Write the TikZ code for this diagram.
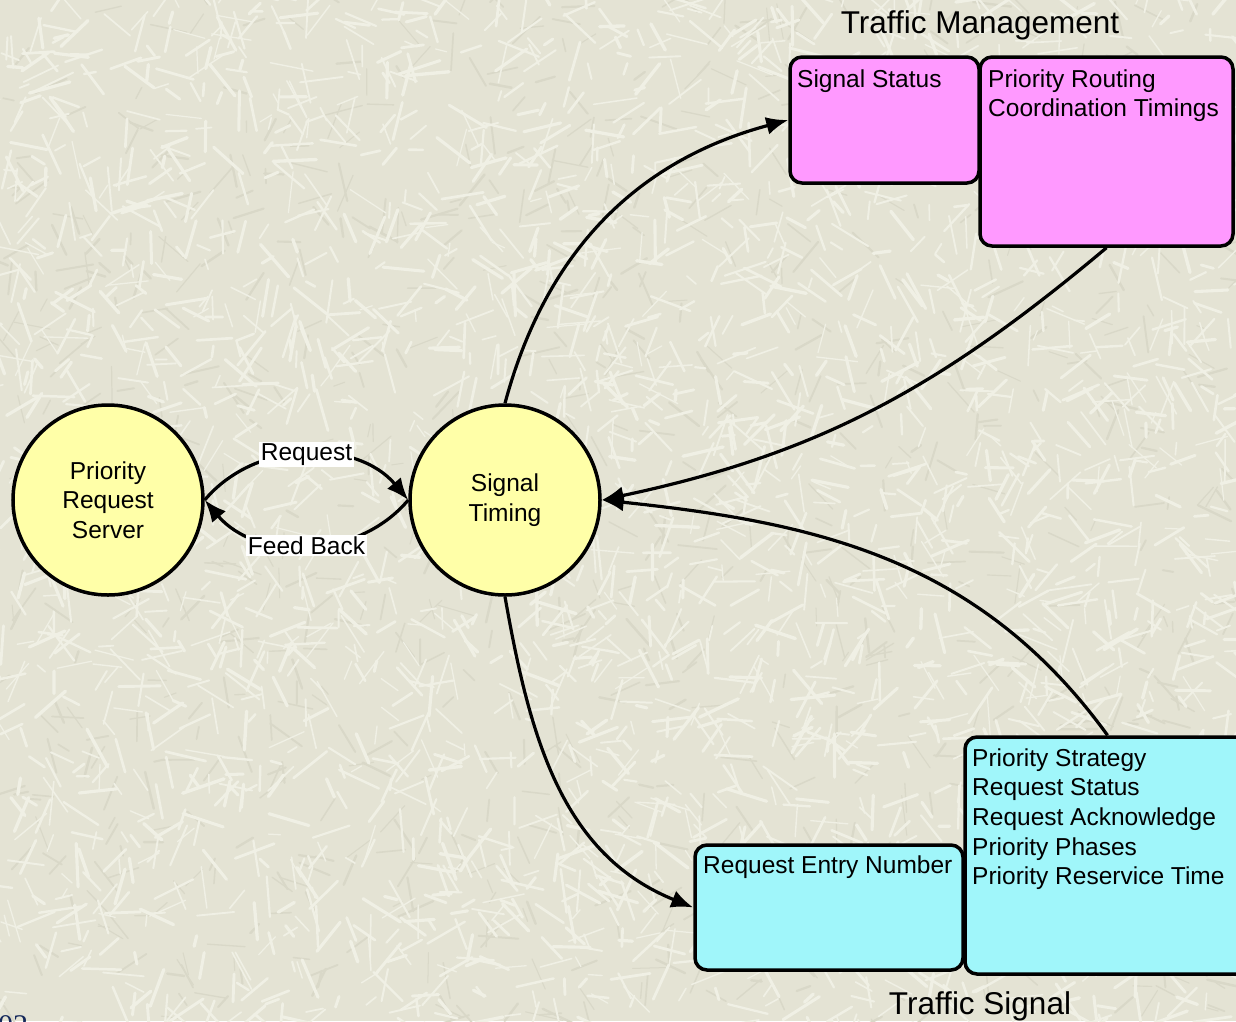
\documentclass[tikz,border=0pt]{standalone}
\usepackage{fontspec}
\setmainfont{Liberation Sans}
\newfontfamily\slidefont{Liberation Serif}
\usetikzlibrary{arrows.meta}
\definecolor{bgbase}{RGB}{228,227,212}
\definecolor{bgstroke}{RGB}{240,240,229}
\definecolor{bgdark}{RGB}{217,216,200}
\definecolor{circfill}{RGB}{255,255,168}
\definecolor{pinkfill}{RGB}{255,153,255}
\definecolor{cyanfill}{RGB}{160,246,250}
\definecolor{navy}{RGB}{20,40,90}
\tikzset{
  bodytext/.style={font=\fontsize{24.5}{29.7}\selectfont, inner sep=0pt},
  titletext/.style={font=\fontsize{31.5}{36}\selectfont, inner sep=0pt},
  proc/.style={circle, draw=black, line width=3.5pt, fill=circfill, minimum size=190pt, inner sep=0pt, align=center, font=\fontsize{24.5}{29.5}\selectfont},
  pinkbox/.style={draw=black, line width=3.5pt, fill=pinkfill, rounded corners=12pt, inner sep=0pt},
  cyanbox/.style={draw=black, line width=3.5pt, fill=cyanfill, rounded corners=12pt, inner sep=0pt},
  flow/.style={line width=3.2pt, -{Latex[length=22pt,width=18pt]}},
  flowlabel/.style={fill=white, inner sep=1.5pt, font=\fontsize{24.5}{29.5}\selectfont},
  texture/.style={draw=bgstroke, line cap=round},
  texturedark/.style={draw=bgdark, line cap=round},
}
\begin{document}
\begin{tikzpicture}[x=1pt,y=1pt]
\useasboundingbox (0,0) rectangle (1236,-1021);
\begin{scope}
\clip (0,0) rectangle (1236,-1021);
\fill[bgbase] (0,0) rectangle (1236,-1021);
\pgfmathsetseed{11}
\foreach \i in {1,...,900}{
  \pgfmathsetmacro\xx{rnd*1260-12}
  \pgfmathsetmacro\yy{rnd*1045-12}
  \pgfmathsetmacro\aa{rnd*360}
  \pgfmathsetmacro\ll{10+rnd*30}
  \pgfmathsetmacro\ww{1+rnd*1.5}
  \draw[texturedark, line width=\ww pt] (\xx,-\yy) -- ++(\aa:\ll);
}
\foreach \i in {1,...,2800}{
  \pgfmathsetmacro\xx{rnd*1260-12}
  \pgfmathsetmacro\yy{rnd*1045-12}
  \pgfmathsetmacro\aa{rnd*360}
  \pgfmathsetmacro\ll{10+rnd*34}
  \pgfmathsetmacro\ww{1.2+rnd*2.2}
  \draw[texture, line width=\ww pt] (\xx,-\yy) -- ++(\aa:\ll);
}
% nodes
\node[proc] (prs) at (108,-500) {Priority\\Request\\Server};
\node[proc] (st) at (505,-500) {Signal\\Timing};

\node[pinkbox, minimum width=189pt, minimum height=126pt] (ss) at (884.5,-120) {};
\node[pinkbox, minimum width=253pt, minimum height=189pt] (pr) at (1106.5,-151.5) {};
\node[cyanbox, minimum width=268pt, minimum height=125pt] (ren) at (829,-907.5) {};
\node[cyanbox, minimum width=285pt, minimum height=237pt] (ps) at (1107.5,-855.5) {};

\node[titletext, anchor=base] (tmtitle) at (980,-33) {Traffic Management};
\node[titletext, anchor=base] (tstitle) at (980,-1014) {Traffic Signal};

\node[bodytext, anchor=base west] (sstext) at (797,-87) {Signal Status};
\node[bodytext, anchor=base west, align=left] (prtext) at (988,-116.7) {Priority Routing\\Coordination Timings};
\node[bodytext, anchor=base west] (rentext) at (703,-873) {Request Entry Number};
\node[bodytext, anchor=base west, align=left] (pstext) at (972,-884.8) {Priority Strategy\\Request Status\\Request Acknowledge\\Priority Phases\\Priority Reservice Time};

\node[anchor=base west, inner sep=0pt, text=navy, font=\slidefont\fontsize{30}{36}\selectfont] (slideno) at (-2,-1035) {02};

% connectors
\draw[flow] (prs.east) to[out=50,in=130] node[flowlabel, pos=0.5] (reqlab) {Request} (st.west);
\draw[flow] (st.west) to[out=-130,in=-50] node[flowlabel, pos=0.5] (fblab) {Feed Back} (prs.east);
\draw[flow] (st.north) to[out=75,in=195] (ss.west);
\draw[flow] (pr.south) to[out=220,in=12] (st.east);
\draw[flow] (ps.north) to[out=126,in=-6] (st.east);
\draw[flow] (st.south) to[out=-80,in=158] (ren.west);
\end{scope}
\end{tikzpicture}
\end{document}
